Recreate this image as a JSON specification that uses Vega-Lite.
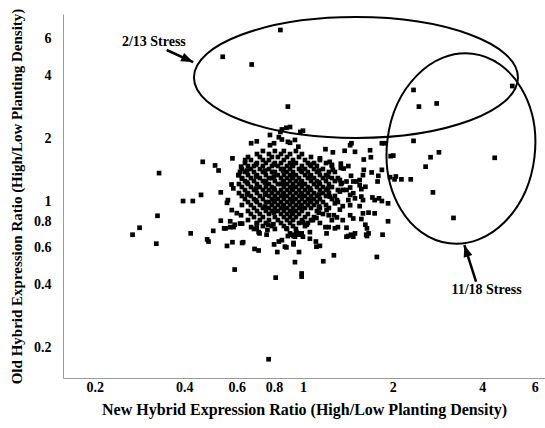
{
"$schema": "https://vega.github.io/schema/vega-lite/v6.json",
"width": 482, "height": 364,
"autosize": {"type": "none"},
"padding": {"left": 63, "top": 14, "right": 0, "bottom": 50},
"background": "white",
"config": {"view": {"stroke": null}, "font": "Liberation Serif"},
"datasets": {
"pts": [
{"x":0.84,"y":6.58},{"x":0.538,"y":4.9},{"x":0.673,"y":4.5},{"x":0.89,"y":2.83},{"x":5.04,"y":3.55},{"x":2.35,"y":3.4},{"x":2.45,"y":2.83},{"x":2.81,"y":2.93},{"x":0.85,"y":2.2},{"x":0.88,"y":2.24},{"x":0.905,"y":2.26},{"x":1.0,"y":2.17},{"x":2.35,"y":1.94},{"x":4.4,"y":1.61},{"x":2.86,"y":1.71},{"x":2.68,"y":1.62},{"x":2.58,"y":1.46},{"x":2.73,"y":1.1},{"x":3.2,"y":0.83},{"x":2.01,"y":1.65},{"x":1.88,"y":1.89},{"x":2.05,"y":1.31},{"x":2.14,"y":1.27},{"x":2.3,"y":1.27},{"x":1.93,"y":0.8},{"x":1.77,"y":0.54},{"x":1.85,"y":0.69},
{"x":0.329,"y":1.36},{"x":0.461,"y":1.54},{"x":0.507,"y":1.48},{"x":0.521,"y":1.4},{"x":0.455,"y":1.07},{"x":0.396,"y":1.0},{"x":0.427,"y":1.0},{"x":0.325,"y":0.85},{"x":0.283,"y":0.745},{"x":0.268,"y":0.69},{"x":0.322,"y":0.625},{"x":0.42,"y":0.7},{"x":0.477,"y":0.655},{"x":0.482,"y":0.64},{"x":0.5,"y":0.72},{"x":0.53,"y":1.1},{"x":0.53,"y":0.805},{"x":0.556,"y":0.98},{"x":0.55,"y":0.74},{"x":0.556,"y":0.61},{"x":0.58,"y":0.635},{"x":0.585,"y":0.75},{"x":0.576,"y":1.2},{"x":0.59,"y":0.47},{"x":0.63,"y":0.635},{"x":0.688,"y":0.59},{"x":0.71,"y":0.58},{"x":0.67,"y":1.89},{"x":0.7,"y":1.93},{"x":0.64,"y":1.57},
{"x":0.81,"y":0.43},{"x":0.99,"y":0.45},{"x":0.99,"y":0.435},{"x":0.767,"y":0.175},{"x":0.88,"y":0.6},{"x":0.94,"y":0.51},{"x":1.17,"y":0.515},{"x":1.27,"y":0.55},{"x":1.11,"y":0.605},{"x":1.14,"y":0.61},{"x":0.97,"y":0.57},{"x":0.82,"y":0.57},{"x":1.055,"y":0.66},{"x":0.8,"y":0.62},{"x":0.83,"y":0.64},{"x":0.85,"y":0.65},{"x":0.93,"y":0.62},{"x":0.89,"y":0.68},{"x":0.93,"y":0.68},{"x":0.97,"y":0.69},{"x":1.42,"y":0.68},{"x":1.475,"y":0.675},{"x":1.64,"y":0.68},
{"x":0.83,"y":2.02},{"x":0.85,"y":1.97},{"x":0.905,"y":1.9},{"x":0.775,"y":1.85},{"x":0.8,"y":1.89},{"x":0.965,"y":1.82},{"x":1.19,"y":1.77},{"x":1.26,"y":1.71},{"x":1.44,"y":1.85},{"x":1.455,"y":1.89},{"x":1.495,"y":1.72},{"x":1.38,"y":1.74},{"x":1.68,"y":1.75},{"x":1.84,"y":1.89},{"x":1.6,"y":1.58},{"x":1.69,"y":1.62},{"x":1.97,"y":1.64},{"x":1.84,"y":1.41},{"x":1.79,"y":1.32},{"x":1.78,"y":1.24},{"x":1.96,"y":1.3},{"x":2.03,"y":1.27},
{"x":0.58,"y":1.6},{"x":0.615,"y":1.38},{"x":0.625,"y":1.28},{"x":1.14,"y":1.6},{"x":1.23,"y":1.54},{"x":1.34,"y":1.51},{"x":1.37,"y":1.43},{"x":1.42,"y":1.47},{"x":1.475,"y":1.24},{"x":1.6,"y":1.41},{"x":1.59,"y":1.33},{"x":1.7,"y":1.37},{"x":1.55,"y":1.26},{"x":1.57,"y":1.05},{"x":1.59,"y":1.01},{"x":1.71,"y":1.04},{"x":1.74,"y":1.01},{"x":1.8,"y":1.03},{"x":1.84,"y":1.0},{"x":1.93,"y":0.975},{"x":1.475,"y":1.09},{"x":1.495,"y":1.03},{"x":1.59,"y":0.873},{"x":1.57,"y":0.82},{"x":1.74,"y":0.873},{"x":1.44,"y":0.855},{"x":1.33,"y":0.91},{"x":1.36,"y":0.945},{"x":1.4,"y":0.745},{"x":1.62,"y":0.77},{"x":1.64,"y":0.74},{"x":1.63,"y":0.69},{"x":1.495,"y":0.7},{"x":1.45,"y":0.69},{"x":1.105,"y":0.64},{"x":0.94,"y":0.675},{"x":0.965,"y":0.7},{"x":0.905,"y":0.7},{"x":0.93,"y":0.63},{"x":0.87,"y":0.605},{"x":0.625,"y":0.63},{"x":0.544,"y":0.74},{"x":0.57,"y":0.75},{"x":0.625,"y":0.78},{"x":0.67,"y":0.75},{"x":0.7,"y":0.74},{"x":0.715,"y":0.7},{"x":0.76,"y":0.727},{"x":0.796,"y":0.775},{"x":1.0,"y":0.79},{"x":1.08,"y":0.81},{"x":1.11,"y":0.83},{"x":1.19,"y":0.75},{"x":1.22,"y":0.75},{"x":1.27,"y":0.855},{"x":1.3,"y":0.835},{"x":1.2,"y":0.905},{"x":1.13,"y":0.88},{"x":1.45,"y":1.32},{"x":1.4,"y":1.24},{"x":1.33,"y":1.26},{"x":1.35,"y":1.22},{"x":1.25,"y":1.49},{"x":1.26,"y":1.41},{"x":1.44,"y":1.16},{"x":1.36,"y":1.13},{"x":1.4,"y":1.13},{"x":1.55,"y":1.19},{"x":1.62,"y":1.17},{"x":1.3,"y":1.01},{"x":1.28,"y":0.975},{"x":1.23,"y":1.05},{"x":1.44,"y":0.955},{"x":1.42,"y":1.01},{"x":1.55,"y":0.945},{"x":1.475,"y":0.825},{"x":1.22,"y":0.855},{"x":1.36,"y":0.81},{"x":1.31,"y":0.75},{"x":1.66,"y":0.88},{"x":1.25,"y":0.81},{"x":1.66,"y":0.7},{"x":1.4,"y":0.675},{"x":1.28,"y":0.74},{"x":1.2,"y":0.7},{"x":1.14,"y":0.785},{"x":1.03,"y":0.77},{"x":1.055,"y":0.71},{"x":1.0,"y":0.675},
{"x":0.584,"y":1.15},{"x":0.56,"y":1.01},{"x":0.577,"y":0.905},{"x":0.6,"y":0.875},{"x":0.62,"y":0.855},{"x":0.57,"y":0.8},{"x":0.59,"y":0.77},{"x":0.615,"y":0.78},{"x":0.7,"y":0.78},{"x":0.71,"y":0.71},{"x":0.765,"y":0.77},{"x":0.755,"y":0.69},{"x":0.88,"y":0.74},{"x":0.92,"y":0.69},{"x":0.95,"y":0.71},{"x":0.99,"y":0.7},{"x":0.62,"y":1.46},{"x":0.607,"y":1.33},{"x":0.775,"y":2.07},{"x":0.84,"y":2.14},{"x":0.89,"y":1.92},{"x":0.94,"y":1.96},{"x":0.98,"y":2.14},{"x":1.34,"y":1.44},{"x":1.51,"y":1.24},{"x":1.57,"y":1.14},{"x":1.44,"y":1.07},{"x":1.33,"y":1.11},
{"x":0.734,"y":1.735},{"x":0.805,"y":1.735},{"x":0.863,"y":1.735},{"x":0.947,"y":1.735},
{"x":0.701,"y":1.678},{"x":0.769,"y":1.678},{"x":0.844,"y":1.678},{"x":0.905,"y":1.678},{"x":0.992,"y":1.678},
{"x":0.654,"y":1.624},{"x":0.717,"y":1.624},{"x":0.787,"y":1.624},{"x":0.824,"y":1.624},{"x":0.884,"y":1.624},{"x":0.97,"y":1.624},{"x":1.064,"y":1.624},
{"x":0.669,"y":1.571},{"x":0.734,"y":1.571},{"x":0.769,"y":1.571},{"x":0.863,"y":1.571},{"x":0.926,"y":1.571},{"x":1.016,"y":1.571},{"x":1.14,"y":1.571},
{"x":0.639,"y":1.52},{"x":0.701,"y":1.52},{"x":0.751,"y":1.52},{"x":0.805,"y":1.52},{"x":0.844,"y":1.52},{"x":0.905,"y":1.52},{"x":0.947,"y":1.52},{"x":1.039,"y":1.52},{"x":1.089,"y":1.52},{"x":1.195,"y":1.52},
{"x":0.654,"y":1.471},{"x":0.685,"y":1.471},{"x":0.734,"y":1.471},{"x":0.787,"y":1.471},{"x":0.824,"y":1.471},{"x":0.884,"y":1.471},{"x":0.926,"y":1.471},{"x":0.992,"y":1.471},{"x":1.064,"y":1.471},{"x":1.114,"y":1.471},{"x":1.251,"y":1.471},
{"x":0.624,"y":1.423},{"x":0.669,"y":1.423},{"x":0.717,"y":1.423},{"x":0.769,"y":1.423},{"x":0.844,"y":1.423},{"x":0.863,"y":1.423},{"x":0.905,"y":1.423},{"x":0.97,"y":1.423},{"x":1.016,"y":1.423},{"x":1.089,"y":1.423},{"x":1.167,"y":1.423},
{"x":0.639,"y":1.377},{"x":0.685,"y":1.377},{"x":0.734,"y":1.377},{"x":0.787,"y":1.377},{"x":0.805,"y":1.377},{"x":0.884,"y":1.377},{"x":0.926,"y":1.377},{"x":0.992,"y":1.377},{"x":1.039,"y":1.377},{"x":1.114,"y":1.377},{"x":1.222,"y":1.377},{"x":1.28,"y":1.377},
{"x":0.61,"y":1.331},{"x":0.654,"y":1.331},{"x":0.701,"y":1.331},{"x":0.751,"y":1.331},{"x":0.824,"y":1.331},{"x":0.863,"y":1.331},{"x":0.905,"y":1.331},{"x":0.947,"y":1.331},{"x":1.016,"y":1.331},{"x":1.064,"y":1.331},{"x":1.14,"y":1.331},{"x":1.195,"y":1.331},
{"x":0.624,"y":1.288},{"x":0.669,"y":1.288},{"x":0.717,"y":1.288},{"x":0.769,"y":1.288},{"x":0.787,"y":1.288},{"x":0.844,"y":1.288},{"x":0.884,"y":1.288},{"x":0.926,"y":1.288},{"x":0.97,"y":1.288},{"x":1.039,"y":1.288},{"x":1.089,"y":1.288},{"x":1.167,"y":1.288},{"x":1.251,"y":1.288},{"x":1.31,"y":1.288},
{"x":0.639,"y":1.246},{"x":0.685,"y":1.246},{"x":0.734,"y":1.246},{"x":0.751,"y":1.246},{"x":0.805,"y":1.246},{"x":0.863,"y":1.246},{"x":0.905,"y":1.246},{"x":0.947,"y":1.246},{"x":0.992,"y":1.246},{"x":1.064,"y":1.246},{"x":1.114,"y":1.246},{"x":1.195,"y":1.246},{"x":1.28,"y":1.246},
{"x":0.61,"y":1.206},{"x":0.654,"y":1.206},{"x":0.701,"y":1.206},{"x":0.769,"y":1.206},{"x":0.824,"y":1.206},{"x":0.844,"y":1.206},{"x":0.884,"y":1.206},{"x":0.926,"y":1.206},{"x":0.97,"y":1.206},{"x":1.016,"y":1.206},{"x":1.089,"y":1.206},{"x":1.14,"y":1.206},{"x":1.222,"y":1.206},{"x":1.341,"y":1.206},
{"x":0.624,"y":1.167},{"x":0.669,"y":1.167},{"x":0.717,"y":1.167},{"x":0.751,"y":1.167},{"x":0.787,"y":1.167},{"x":0.863,"y":1.167},{"x":0.905,"y":1.167},{"x":0.947,"y":1.167},{"x":0.992,"y":1.167},{"x":1.039,"y":1.167},{"x":1.114,"y":1.167},{"x":1.167,"y":1.167},{"x":1.251,"y":1.167},
{"x":0.639,"y":1.129},{"x":0.685,"y":1.129},{"x":0.734,"y":1.129},{"x":0.769,"y":1.129},{"x":0.805,"y":1.129},{"x":0.844,"y":1.129},{"x":0.884,"y":1.129},{"x":0.926,"y":1.129},{"x":0.97,"y":1.129},{"x":1.016,"y":1.129},{"x":1.064,"y":1.129},{"x":1.14,"y":1.129},{"x":1.195,"y":1.129},{"x":1.31,"y":1.129},
{"x":0.61,"y":1.092},{"x":0.654,"y":1.092},{"x":0.701,"y":1.092},{"x":0.751,"y":1.092},{"x":0.787,"y":1.092},{"x":0.824,"y":1.092},{"x":0.863,"y":1.092},{"x":0.905,"y":1.092},{"x":0.947,"y":1.092},{"x":0.992,"y":1.092},{"x":1.039,"y":1.092},{"x":1.089,"y":1.092},{"x":1.167,"y":1.092},{"x":1.222,"y":1.092},
{"x":0.624,"y":1.057},{"x":0.669,"y":1.057},{"x":0.717,"y":1.057},{"x":0.769,"y":1.057},{"x":0.805,"y":1.057},{"x":0.844,"y":1.057},{"x":0.884,"y":1.057},{"x":0.926,"y":1.057},{"x":0.97,"y":1.057},{"x":1.016,"y":1.057},{"x":1.064,"y":1.057},{"x":1.114,"y":1.057},{"x":1.195,"y":1.057},{"x":1.28,"y":1.057},
{"x":0.639,"y":1.022},{"x":0.685,"y":1.022},{"x":0.734,"y":1.022},{"x":0.787,"y":1.022},{"x":0.824,"y":1.022},{"x":0.863,"y":1.022},{"x":0.905,"y":1.022},{"x":0.947,"y":1.022},{"x":0.992,"y":1.022},{"x":1.039,"y":1.022},{"x":1.089,"y":1.022},{"x":1.14,"y":1.022},{"x":1.251,"y":1.022},
{"x":0.654,"y":0.989},{"x":0.701,"y":0.989},{"x":0.751,"y":0.989},{"x":0.769,"y":0.989},{"x":0.805,"y":0.989},{"x":0.844,"y":0.989},{"x":0.884,"y":0.989},{"x":0.926,"y":0.989},{"x":0.97,"y":0.989},{"x":1.016,"y":0.989},{"x":1.064,"y":0.989},{"x":1.114,"y":0.989},{"x":1.167,"y":0.989},{"x":1.31,"y":0.989},
{"x":0.624,"y":0.957},{"x":0.669,"y":0.957},{"x":0.717,"y":0.957},{"x":0.787,"y":0.957},{"x":0.824,"y":0.957},{"x":0.863,"y":0.957},{"x":0.905,"y":0.957},{"x":0.947,"y":0.957},{"x":0.992,"y":0.957},{"x":1.039,"y":0.957},{"x":1.089,"y":0.957},{"x":1.195,"y":0.957},
{"x":0.685,"y":0.926},{"x":0.734,"y":0.926},{"x":0.769,"y":0.926},{"x":0.805,"y":0.926},{"x":0.844,"y":0.926},{"x":0.884,"y":0.926},{"x":0.926,"y":0.926},{"x":0.97,"y":0.926},{"x":1.016,"y":0.926},{"x":1.064,"y":0.926},{"x":1.14,"y":0.926},{"x":1.222,"y":0.926},
{"x":0.654,"y":0.896},{"x":0.701,"y":0.896},{"x":0.751,"y":0.896},{"x":0.787,"y":0.896},{"x":0.824,"y":0.896},{"x":0.863,"y":0.896},{"x":0.905,"y":0.896},{"x":0.947,"y":0.896},{"x":0.992,"y":0.896},{"x":1.114,"y":0.896},
{"x":0.669,"y":0.867},{"x":0.717,"y":0.867},{"x":0.769,"y":0.867},{"x":0.844,"y":0.867},{"x":0.884,"y":0.867},{"x":0.926,"y":0.867},{"x":0.97,"y":0.867},{"x":1.039,"y":0.867},{"x":1.167,"y":0.867},
{"x":0.685,"y":0.838},{"x":0.734,"y":0.838},{"x":0.805,"y":0.838},{"x":0.863,"y":0.838},{"x":0.905,"y":0.838},{"x":0.947,"y":0.838},{"x":1.016,"y":0.838},{"x":1.089,"y":0.838},
{"x":0.654,"y":0.811},{"x":0.717,"y":0.811},{"x":0.769,"y":0.811},{"x":0.824,"y":0.811},{"x":0.884,"y":0.811},{"x":0.926,"y":0.811},{"x":0.992,"y":0.811},{"x":1.064,"y":0.811},
{"x":0.701,"y":0.785},{"x":0.751,"y":0.785},{"x":0.844,"y":0.785},{"x":0.905,"y":0.785},{"x":0.97,"y":0.785},{"x":1.039,"y":0.785},
{"x":0.734,"y":0.759},{"x":0.787,"y":0.759},{"x":0.863,"y":0.759},{"x":0.926,"y":0.759},{"x":1.016,"y":0.759},
{"x":0.685,"y":0.735},{"x":0.805,"y":0.735},{"x":0.884,"y":0.735},{"x":0.947,"y":0.735},
{"x":0.696,"y":1.495},{"x":0.799,"y":1.495},{"x":0.919,"y":1.495},{"x":1.056,"y":1.495},
{"x":0.649,"y":1.399},{"x":0.746,"y":1.399},{"x":0.857,"y":1.399},{"x":0.985,"y":1.399},{"x":1.132,"y":1.399},
{"x":0.696,"y":1.31},{"x":0.799,"y":1.31},{"x":0.919,"y":1.31},{"x":1.056,"y":1.31},{"x":1.213,"y":1.31},
{"x":0.649,"y":1.226},{"x":0.746,"y":1.226},{"x":0.857,"y":1.226},{"x":0.985,"y":1.226},{"x":1.132,"y":1.226},
{"x":0.696,"y":1.148},{"x":0.799,"y":1.148},{"x":0.919,"y":1.148},{"x":1.056,"y":1.148},{"x":1.213,"y":1.148},
{"x":0.649,"y":1.074},{"x":0.746,"y":1.074},{"x":0.857,"y":1.074},{"x":0.985,"y":1.074},{"x":1.132,"y":1.074},
{"x":0.696,"y":1.006},{"x":0.799,"y":1.006},{"x":0.919,"y":1.006},{"x":1.056,"y":1.006},
{"x":0.746,"y":0.941},{"x":0.857,"y":0.941},{"x":0.985,"y":0.941},{"x":1.132,"y":0.941},
{"x":0.799,"y":0.881},{"x":0.919,"y":0.881}
],
"ell1": [{"x": 1.506, "y": 3.9}],
"ell2": [{"x": 3.39, "y": 1.783}],
"arrow1": [{"x": 0.349, "y": 5.28, "x2": 0.428, "y2": 4.62}],
"arrow2": [{"x": 3.81, "y": 0.411, "x2": 3.48, "y2": 0.616}],
"head1": [{"x": 0.428, "y": 4.62}],
"head2": [{"x": 3.48, "y": 0.616}],
"labels": [{"x": 0.316, "y": 5.78, "text": "2/13 Stress"}, {"x": 4.13, "y": 0.375, "text": "11/18 Stress"}]
},
"layer": [
{
"data": {"name": "pts"},
"mark": {"type": "square", "size": 22, "color": "black", "opacity": 1},
"encoding": {
"x": {"field": "x", "type": "quantitative",
"scale": {"type": "log", "domain": [0.1566, 6.49], "nice": false, "zero": false},
"axis": {"title": "New Hybrid Expression Ratio (High/Low Planting Density)", "values": [0.2,0.4,0.6,0.8,1,2,4,6], "format": "~g", "grid": false, "ticks": false, "domainColor": "#9a9a9a", "domainWidth": 1, "labelFont": "Liberation Serif", "labelFontWeight": "bold", "labelFontSize": 14, "labelColor": "black", "labelPadding": 2, "labelFlush": false, "labelOverlap": false, "titleFont": "Liberation Serif", "titleFontWeight": "bold", "titleFontSize": 16, "titleColor": "black", "titlePadding": 7}},
"y": {"field": "y", "type": "quantitative",
"scale": {"type": "log", "domain": [0.1423, 7.85], "nice": false, "zero": false},
"axis": {"title": "Old Hybrid Expression Ratio (High/Low Planting Density)", "values": [0.2,0.4,0.6,0.8,1,2,4,6], "format": "~g", "grid": false, "ticks": false, "domainColor": "#9a9a9a", "domainWidth": 1, "labelFont": "Liberation Serif", "labelFontWeight": "bold", "labelFontSize": 14, "labelColor": "black", "labelPadding": 12, "labelFlush": false, "labelOverlap": false, "titleFont": "Liberation Serif", "titleFontWeight": "bold", "titleFontSize": 15, "titleColor": "black", "titlePadding": 9}}
}
},
{
"data": {"name": "ell1"},
"mark": {"type": "point", "shape": "M-1,0A1,0.373 0 1,1 1,0A1,0.373 0 1,1 -1,0Z", "size": 104976, "filled": false, "stroke": "black", "strokeWidth": 2, "opacity": 1},
"encoding": {"x": {"field": "x", "type": "quantitative"}, "y": {"field": "y", "type": "quantitative"}}
},
{
"data": {"name": "ell2"},
"mark": {"type": "point", "shape": "M0,-1A0.775,1 0 1,1 0,1A0.775,1 0 1,1 0,-1Z", "size": 36481, "angle": 7, "filled": false, "stroke": "black", "strokeWidth": 2, "opacity": 1},
"encoding": {"x": {"field": "x", "type": "quantitative"}, "y": {"field": "y", "type": "quantitative"}}
},
{
"data": {"name": "arrow1"},
"mark": {"type": "rule", "color": "black", "strokeWidth": 2.5},
"encoding": {"x": {"field": "x", "type": "quantitative"}, "y": {"field": "y", "type": "quantitative"}, "x2": {"field": "x2"}, "y2": {"field": "y2"}}
},
{
"data": {"name": "arrow2"},
"mark": {"type": "rule", "color": "black", "strokeWidth": 2.5},
"encoding": {"x": {"field": "x", "type": "quantitative"}, "y": {"field": "y", "type": "quantitative"}, "x2": {"field": "x2"}, "y2": {"field": "y2"}}
},
{
"data": {"name": "head1"},
"mark": {"type": "point", "shape": "M0,0L-2,-0.75L-2,0.75Z", "size": 144, "angle": 24.8, "filled": true, "color": "black", "opacity": 1},
"encoding": {"x": {"field": "x", "type": "quantitative"}, "y": {"field": "y", "type": "quantitative"}}
},
{
"data": {"name": "head2"},
"mark": {"type": "point", "shape": "M0,0L-2,-0.75L-2,0.75Z", "size": 144, "angle": 252.3, "filled": true, "color": "black", "opacity": 1},
"encoding": {"x": {"field": "x", "type": "quantitative"}, "y": {"field": "y", "type": "quantitative"}}
},
{
"data": {"name": "labels"},
"mark": {"type": "text", "font": "Liberation Serif", "fontWeight": "bold", "fontSize": 14, "color": "black", "align": "center", "baseline": "middle"},
"encoding": {"x": {"field": "x", "type": "quantitative"}, "y": {"field": "y", "type": "quantitative"}, "text": {"field": "text"}}
}
]
}
